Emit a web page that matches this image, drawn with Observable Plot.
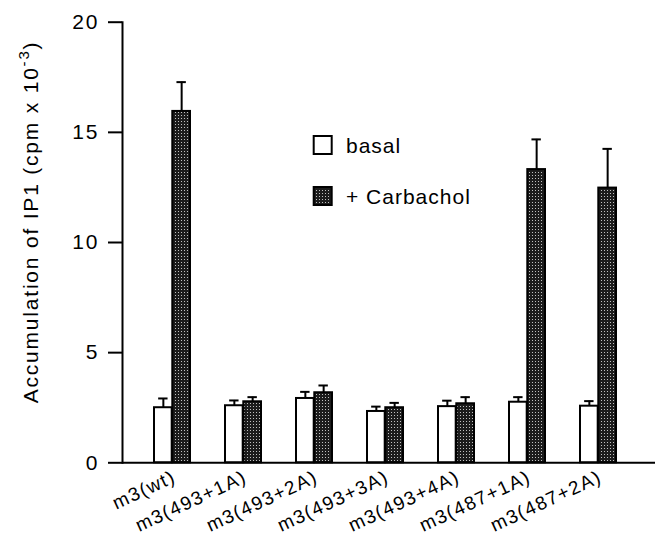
<!DOCTYPE html>
<html><head><meta charset="utf-8">
<script src="https://cdn.jsdelivr.net/npm/d3@7"></script>
<script src="https://cdn.jsdelivr.net/npm/@observablehq/plot@0.6"></script>
<style>
body{margin:0;background:#fff}
#chart svg{font-family:"Liberation Sans",Arial,Helvetica,sans-serif;overflow:visible}
</style>
</head><body><div id="chart"></div>
<script>
// ---- data ----
const groups = ["m3(wt)","m3(493+1A)","m3(493+2A)","m3(493+3A)","m3(493+4A)","m3(487+1A)","m3(487+2A)"];
const basal = [2.50,2.59,2.92,2.33,2.55,2.75,2.57];
const basalErr = [0.42,0.24,0.30,0.22,0.27,0.23,0.23];
const carbachol = [15.95,2.77,3.18,2.50,2.68,13.31,12.47];
const carbacholErr = [1.33,0.21,0.33,0.22,0.30,1.37,1.78];
const yTicks = [0,5,10,15,20];
const seriesNames = ["basal","+ Carbachol"];

// ---- layout ----
const W = 655, H = 541;
const mL = 122, mT = 21.7, mB = H - 462.3, mR = 0;
const xRange = [136.3, 634.7];
const step = (xRange[1]-xRange[0]) / groups.length;
const barW = 18.3;
const pIn = 1 - 2*barW/step;
const bw = 2*barW;
const capHalf = 5;

const rowsB = groups.map((g,i)=>({group:g, value:basal[i], top:basal[i]+basalErr[i]}));
const rowsC = groups.map((g,i)=>({group:g, value:carbachol[i], top:carbachol[i]+carbacholErr[i]}));

const stroke = "#000";
const chart = Plot.plot({
  width: W, height: H,
  marginLeft: mL, marginRight: mR, marginTop: mT, marginBottom: mB,
  style: {fontFamily: "'Liberation Sans', Arial, sans-serif", background: "#fff", color: "#000"},
  x: {domain: groups, range: xRange, paddingInner: pIn, paddingOuter: pIn/2, label: null},
  y: {domain: [0, 20], label: null},
  marks: [
    Plot.ruleX(rowsB, {x: "group", y1: "value", y2: "top", dx: -barW/2, stroke, strokeWidth: 2}),
    Plot.ruleX(rowsC, {x: "group", y1: "value", y2: "top", dx: barW/2, stroke, strokeWidth: 2}),
    Plot.tickY(rowsB, {x: "group", y: "top", insetLeft: barW/2 - capHalf, insetRight: bw - barW/2 - capHalf, stroke, strokeWidth: 2}),
    Plot.tickY(rowsC, {x: "group", y: "top", insetLeft: barW*1.5 - capHalf, insetRight: barW/2 - capHalf, stroke, strokeWidth: 2}),
    Plot.barY(rowsB, {x: "group", y: "value", insetLeft: 0, insetRight: barW, fill: "#fff", stroke, strokeWidth: 2}),
    Plot.barY(rowsC, {x: "group", y: "value", insetLeft: barW, insetRight: 0, fill: "url(#stipple)", stroke, strokeWidth: 2}),
    Plot.ruleY([0], {stroke, strokeWidth: 2}),
    Plot.frame({anchor: "left", stroke, strokeWidth: 2}),
    Plot.axisY({ticks: yTicks, tickSize: 14, tickPadding: 9, fontSize: 21, strokeWidth: 2, label: null}),
    Plot.axisX({tickSize: 0, tickRotate: -25, tickPadding: 13, dx: 2, fontSize: 19, label: null})
  ]
});
document.getElementById("chart").appendChild(chart);

const svg = d3.select(chart.tagName.toLowerCase()==="svg" ? chart : chart.querySelector("svg"));
// letter spacing for axis tick labels
svg.selectAll("[aria-label='y-axis tick label'] text").attr("letter-spacing","2px");
svg.selectAll("[aria-label='x-axis tick label'] text").attr("letter-spacing","1.5px");

// stipple pattern for the carbachol bars
const defs = svg.insert("defs", ":first-child");
const pat = defs.append("pattern").attr("id","stipple").attr("width",3).attr("height",3).attr("patternUnits","userSpaceOnUse");
pat.append("rect").attr("width",3).attr("height",3).attr("fill","#1c1c1c");
pat.append("rect").attr("x",1).attr("y",1).attr("width",1).attr("height",1).attr("fill","#c0c0c0");

// y-axis title
const yt = svg.append("text")
  .attr("transform", `translate(38,${(mT + H - mB)/2 - 20}) rotate(-90)`)
  .attr("text-anchor","middle").attr("font-size",21).attr("letter-spacing","1.8px").attr("fill","#000");
yt.append("tspan").text("Accumulation of IP1 (cpm x 10");
yt.append("tspan").attr("font-size",15).attr("dy",-9).text("-3");
yt.append("tspan").attr("dy",9).text(")");

// legend
const leg = svg.append("g").attr("font-size",21).attr("letter-spacing","1px").attr("fill","#000").attr("text-anchor","start");
const legY = [136, 187];
seriesNames.forEach((name,i)=>{
  leg.append("rect").attr("x",313.7).attr("y",legY[i]).attr("width",18).attr("height",18)
    .attr("fill", i===0 ? "#fff" : "url(#stipple)").attr("stroke","#000").attr("stroke-width",2);
  leg.append("text").attr("x",346).attr("y",legY[i]+16.5).text(name);
});
</script></body></html>
